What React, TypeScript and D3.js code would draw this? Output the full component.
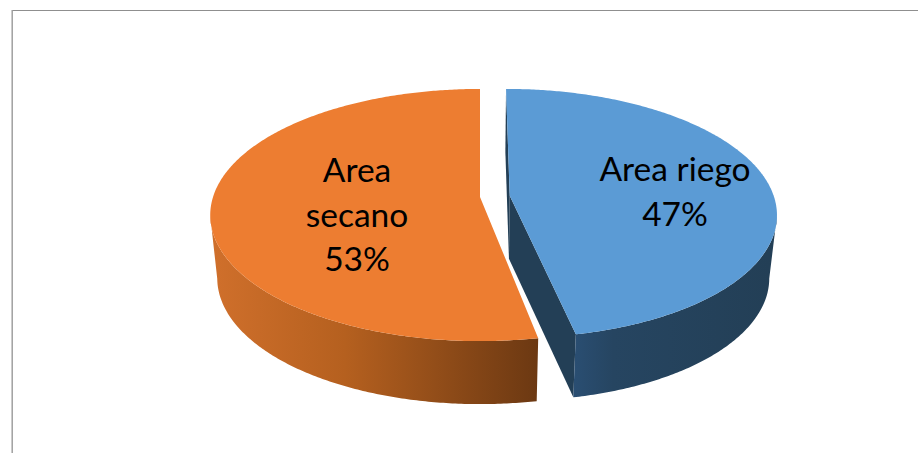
import * as React from "react";
import * as d3 from "d3";

const categories = ["Area riego", "Area secano"];
const shares = [47, 53];
const explode = [0.112, 0];
const sweepAdjust = [-0.013, 0]; // blue corner sits a bit further right in the original
const radiusAdjust = [0.99, 1];
const labelLines = [
  ["Area riego", "47%"],
  ["Area", "secano", "53%"],
];
const labelAnchors = [
  [675, 181],
  [357, 182],
];
const topColors = ["#5b9bd5", "#ed7d31"];

const [width, height] = [918, 453];
const cx = 480;
const cy = 197;
const R = 267;
const RY = 123.5;
const K = 0.143; // perspective, front of the pie is closer
const DEPTH = 63;
const BASE_SCALE = 0.974;

const xScale = d3.scaleLinear().domain([0, 1]).range([cx, cx + R]);
const yScale = d3.scaleLinear().domain([0, 1]).range([cy, cy + RY]);

function project(u: number, v: number, base: boolean): [number, number] {
  const w = 1 - K * v;
  const s = base ? BASE_SCALE : 1;
  const x = cx + (xScale(u / w) - cx) * s;
  return [x, yScale(v / w) + (base ? DEPTH : 0)];
}

export default function App() {
  const arcs = d3.pie<number>().sort(null)(shares);
  const line = d3.line();

  const slices = arcs.map((a, i) => {
    const mid = (a.startAngle + a.endAngle) / 2;
    const ox = Math.sin(mid) * explode[i];
    const oy = -Math.cos(mid) * explode[i];
    const r = radiusAdjust[i];
    const end = a.endAngle + sweepAdjust[i];
    const steps = d3.range(a.startAngle, end, 0.01).concat(end);
    const point = (t: number, base: boolean) =>
      project(ox + r * Math.sin(t), oy - r * Math.cos(t), base);
    const apex = (base: boolean) => project(ox, oy, base);
    const rim = (base: boolean) => steps.map((t) => point(t, base));
    // the wall only runs between the silhouette points, where the rim turns
    const front = steps.filter((t) => oy - r * Math.cos(t) >= K);
    const frontTop = front.map((t) => point(t, false));
    const frontBase = front.map((t) => point(t, true));
    const top = line([apex(false), ...rim(false)]) + "Z";
    const wall = line([...frontTop, ...frontBase.reverse()]) + "Z";
    const endFace =
      line([apex(false), point(end, false), point(end, true), apex(true)]) + "Z";
    const startFace =
      line([apex(false), point(a.startAngle, false), point(a.startAngle, true), apex(true)]) + "Z";
    return { top, wall, endFace, startFace };
  });

  return (
    <svg
      width={width}
      height={height}
      style={{ position: "absolute", left: 0, top: 0, background: "#fff" }}
    >
      <defs>
        <linearGradient id="sideBlue" gradientUnits="userSpaceOnUse" x1={574} x2={770} y1={0} y2={0}>
          <stop offset="0" stopColor="#2a4e72" />
          <stop offset="0.2" stopColor="#264561" />
          <stop offset="1" stopColor="#233f56" />
        </linearGradient>
        <linearGradient id="sideOrange" gradientUnits="userSpaceOnUse" x1={215} x2={540} y1={0} y2={0}>
          <stop offset="0" stopColor="#cf6f2b" />
          <stop offset="0.4" stopColor="#b5601f" />
          <stop offset="1" stopColor="#6b3812" />
        </linearGradient>
      </defs>

      <line x1={12} x2={918} y1={10.5} y2={10.5} stroke="#8f8f8f" strokeWidth={1.2} />
      <line x1={12.2} x2={12.2} y1={10} y2={453} stroke="#a0a0a0" strokeWidth={1.5} />

      {/* orange first, the exploded blue slice sits right of it */}
      <path d={slices[1].wall} fill="url(#sideOrange)" />
      <path d={slices[1].top} fill={topColors[1]} />

      <path d={slices[0].startFace} fill="#233f56" />
      <path d={slices[0].endFace} fill="#233f56" />
      <path d={slices[0].wall} fill="url(#sideBlue)" />
      <path d={slices[0].top} fill={topColors[0]} />

      {categories.map((c, i) => (
        <text
          key={c}
          x={labelAnchors[i][0]}
          y={labelAnchors[i][1]}
          textAnchor="middle"
          fontFamily="Lato, 'Open Sans', sans-serif"
          fontSize={33.5}
          fill="#000"
        >
          {labelLines[i].map((t, j) => (
            <tspan key={t} x={labelAnchors[i][0]} dy={j === 0 ? 0 : 44.5}>
              {t}
            </tspan>
          ))}
        </text>
      ))}
    </svg>
  );
}
